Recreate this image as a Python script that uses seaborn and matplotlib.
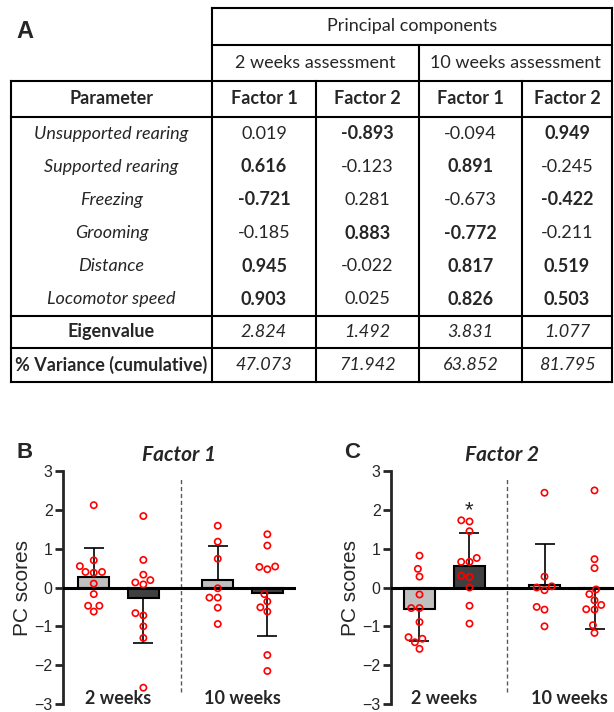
import matplotlib
matplotlib.use("Agg")
import matplotlib.pyplot as plt
import numpy as np
import pandas as pd
import seaborn as sns

# ---- A: loadings table ----
parameters = ["Unsupported rearing", "Supported rearing", "Freezing",
              "Grooming", "Distance", "Locomotor speed"]
w2_factor1 = [0.019, 0.616, -0.721, -0.185, 0.945, 0.903]
w2_factor2 = [-0.893, -0.123, 0.281, 0.883, -0.022, 0.025]
w10_factor1 = [-0.094, 0.891, -0.673, -0.772, 0.817, 0.826]
w10_factor2 = [0.949, -0.245, -0.422, -0.211, 0.519, 0.503]
# which loadings are printed in bold
bold_w2_factor1 = [0, 1, 1, 0, 1, 1]
bold_w2_factor2 = [1, 0, 0, 1, 0, 0]
bold_w10_factor1 = [0, 1, 0, 1, 1, 1]
bold_w10_factor2 = [1, 0, 1, 0, 1, 1]
eigenvalues = [2.824, 1.492, 3.831, 1.077]
variance_cum = [47.073, 71.942, 63.852, 81.795]

# ---- B / C: individual PC scores ----
weeks = ["2 weeks", "10 weeks"]
groups = ["light", "dark"]
f1_2w_light = [2.12, 0.70, 0.55, 0.40, 0.38, 0.40, 0.10, -0.17, -0.47, -0.47, -0.62]
f1_2w_dark = [1.84, 0.71, 0.33, 0.13, 0.19, 0.08, -0.66, -0.72, -1.00, -1.30, -2.58]
f1_10w_light = [1.59, 1.18, 0.74, -0.02, -0.26, -0.26, -0.52, -0.94]
f1_10w_dark = [1.37, 1.08, 0.54, 0.47, 0.53, -0.17, -0.36, -0.62, -0.51, -1.74, -2.15]
f2_2w_light = [0.82, 0.48, 0.28, -0.18, -0.53, -0.53, -0.89, -1.28, -1.32, -1.41, -1.58]
f2_2w_dark = [1.73, 1.70, 1.45, 0.76, 0.66, 0.66, 0.30, 0.27, 0.00, -0.47, -0.93]
f2_10w_light = [2.44, 0.28, 0.03, -0.07, 0.00, -0.57, -0.50, -1.00]
f2_10w_dark = [2.50, 0.73, 0.50, -0.05, -0.17, -0.33, -0.45, -0.57, -0.56, -0.97, -1.17]

bar_colors = {"light": "#c0c0c0", "dark": "#404040"}

rows = []
for factor, sets in [("Factor 1", [f1_2w_light, f1_2w_dark, f1_10w_light, f1_10w_dark]),
                     ("Factor 2", [f2_2w_light, f2_2w_dark, f2_10w_light, f2_10w_dark])]:
    keys = [(w, g) for w in weeks for g in groups]
    for (w, g), vals in zip(keys, sets):
        for v in vals:
            rows.append({"factor": factor, "week": w, "group": g, "score": v})
scores = pd.DataFrame(rows)

sns.set_style("ticks")
plt.rcParams["font.family"] = ["Liberation Sans", "DejaVu Sans"]
TFONT = ["Lato", "DejaVu Sans"]

fig = plt.figure(figsize=(6.14, 7.12), dpi=100)

# ---------------- table ----------------
tab = fig.add_axes([0, 0, 1, 1])
tab.set_xlim(0, 614)
tab.set_ylim(712, 0)
tab.axis("off")
tab.patch.set_alpha(0)

xs = [11, 212, 316, 419, 522, 612]
y_top, y_pc, y_assess, y_head, y_body, y_eig, y_var = 8, 45, 81, 117, 316, 348, 382
lw = 1.5
kw = dict(color="black", lw=lw, solid_capstyle="projecting")
tab.plot([xs[1], xs[5]], [y_top, y_top], **kw)
tab.plot([xs[1], xs[5]], [y_pc, y_pc], **kw)
for y in [y_assess, y_head, y_body, y_eig, y_var]:
    tab.plot([xs[0], xs[5]], [y, y], **kw)
tab.plot([xs[1], xs[1]], [y_top, y_var], **kw)
tab.plot([xs[5], xs[5]], [y_top, y_var], **kw)
tab.plot([xs[3], xs[3]], [y_pc, y_var], **kw)
tab.plot([xs[0], xs[0]], [y_assess, y_var], **kw)
for x in [xs[2], xs[4]]:
    tab.plot([x, x], [y_assess, y_var], **kw)

fs = 13
tab.text((xs[1] + xs[5]) / 2, (y_top + y_pc) / 2, "Principal components",
         ha="center", va="center", fontsize=fs, family=TFONT)
tab.text((xs[1] + xs[3]) / 2, (y_pc + y_assess) / 2, "2 weeks assessment",
         ha="center", va="center", fontsize=fs, family=TFONT)
tab.text((xs[3] + xs[5]) / 2, (y_pc + y_assess) / 2, "10 weeks assessment",
         ha="center", va="center", fontsize=fs, family=TFONT)
col_mid = [(xs[i] + xs[i + 1]) / 2 for i in range(5)]
head_y = (y_assess + y_head) / 2
for i, lab in enumerate(["Parameter", "Factor 1", "Factor 2", "Factor 1", "Factor 2"]):
    tab.text(col_mid[i], head_y, lab, ha="center", va="center", fontsize=fs,
             fontweight="bold", family=TFONT)

cols = [w2_factor1, w2_factor2, w10_factor1, w10_factor2]
bolds = [bold_w2_factor1, bold_w2_factor2, bold_w10_factor1, bold_w10_factor2]
row_h = (y_body - y_head) / len(parameters)
for r, p in enumerate(parameters):
    yc = y_head + (r + 0.5) * row_h
    tab.text(col_mid[0], yc, p, ha="center", va="center", fontsize=fs,
             style="italic", family=TFONT)
    for c in range(4):
        tab.text(col_mid[c + 1], yc, f"{cols[c][r]:.3f}", ha="center", va="center",
                 fontsize=fs, family=TFONT,
                 fontweight="bold" if bolds[c][r] else "normal")

tab.text(col_mid[0], (y_body + y_eig) / 2, "Eigenvalue", ha="center", va="center",
         fontsize=fs, fontweight="bold", family=TFONT)
tab.text(col_mid[0], (y_eig + y_var) / 2, "% Variance (cumulative)", ha="center",
         va="center", fontsize=fs, fontweight="bold", family=TFONT)
for c in range(4):
    tab.text(col_mid[c + 1], (y_body + y_eig) / 2, f"{eigenvalues[c]:.3f}",
             ha="center", va="center", fontsize=fs, style="italic", family=TFONT)
    tab.text(col_mid[c + 1], (y_eig + y_var) / 2, f"{variance_cum[c]:.3f}",
             ha="center", va="center", fontsize=fs, style="italic", family=TFONT)

fig.text(25 / 614, 1 - 32 / 712, "A", ha="center", va="center", fontsize=17,
         fontweight="bold")

# ---------------- bar panels ----------------
W = 0.8


def draw_panel(ax, factor, xlim):
    d = scores[scores["factor"] == factor]
    sns.barplot(data=d, x="week", y="score", hue="group", order=weeks,
                hue_order=groups, palette=bar_colors, width=W, gap=0.38,
                errorbar=None, edgecolor="black", linewidth=1.5, legend=False,
                ax=ax, zorder=2)
    stats = d.groupby(["week", "group"])["score"].agg(["mean", "std"])
    for i, w in enumerate(weeks):
        for j, g in enumerate(groups):
            m, s = stats.loc[(w, g)]
            xp = i + (j - 0.5) * W / 2
            yerr = [[0], [s]] if m > 0 else [[s], [0]]
            ax.errorbar([xp], [m], yerr=yerr, fmt="none", ecolor="black",
                        elinewidth=1.2, capsize=7, capthick=1.2, zorder=3)
    ax.axhline(0, color="black", lw=2.2, zorder=4)
    n0 = len(ax.collections)
    sns.swarmplot(data=d, x="week", y="score", hue="group", order=weeks,
                  hue_order=groups, palette={"light": "red", "dark": "red"},
                  dodge=True, size=4.5, legend=False, ax=ax, zorder=5)
    for coll in ax.collections[n0:]:
        coll.set_facecolor("none")
        coll.set_edgecolor("red")
        coll.set_linewidth(1.2)
    ax.vlines(0.5, -2.7, 2.8, colors="0.35", linestyles=(0, (3, 2)), lw=1)
    ax.set_xlim(*xlim)
    ax.set_ylim(-3, 3)
    ax.set_yticks(range(-3, 4))
    ax.tick_params(axis="y", length=6, width=2, labelsize=11.5, pad=1.5)
    ax.tick_params(axis="x", length=0, pad=-10)
    ax.set_xticks([0, 1])
    ax.set_xticklabels(weeks, fontsize=13, fontweight="bold", family=TFONT)
    ax.set_xlabel("")
    ax.set_ylabel("PC scores", fontsize=15, labelpad=2)
    for sp in ["top", "right", "bottom"]:
        ax.spines[sp].set_visible(False)
    ax.spines["left"].set_linewidth(2)
    ax.set_title(factor, fontsize=15, fontweight="bold", style="italic",
                 family=TFONT, pad=7)
    ax.patch.set_alpha(0)
    return d, stats


axB = fig.add_axes([63 / 614, 8 / 712, 233 / 614, 233 / 712])
draw_panel(axB, "Factor 1", (-0.448, 1.431))
axC = fig.add_axes([391 / 614, 8 / 712, 223 / 614, 233 / 712])
dC, statsC = draw_panel(axC, "Factor 2", (-0.428, 1.356))
sig = dC[(dC["week"] == "2 weeks") & (dC["group"] == "dark")]["score"]
axC.text(0 + 0.5 * W / 2, sig.max() + 0.25, "*", ha="center", va="center",
         fontsize=16)

fig.text(25 / 614, 1 - 453 / 712, "B", ha="center", va="center", fontsize=16,
         fontweight="bold")
fig.text(352 / 614, 1 - 453 / 712, "C", ha="center", va="center", fontsize=16,
         fontweight="bold")

fig.savefig("out.png", dpi=100)
